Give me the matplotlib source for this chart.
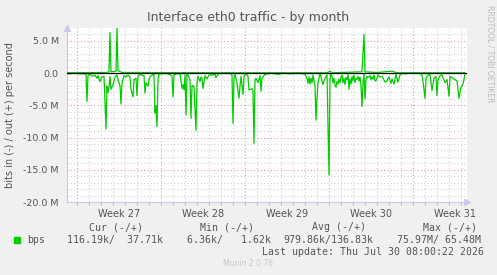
import matplotlib
matplotlib.use('Agg')
import matplotlib.pyplot as plt
import numpy as np

# hours since start of Week 27, inbound traffic (Mbit/s, drawn negative)
in_hours = [-22, -14, -4, 6, 16, 18, 20, 22, 26, 32, 36, 40, 42, 46, 50, 54, 58, 60, 62, 64,
            66, 68, 72, 76, 80, 82, 86, 88, 90, 94, 98, 102, 106, 108, 112, 114, 118, 120, 122, 126,
            130, 134, 136, 138, 142, 144, 146, 150, 154, 156, 158, 160, 162, 164, 170, 176, 186, 190, 192, 194,
            198, 206, 210, 212, 214, 216, 218, 220, 222, 226, 228, 230, 232, 234, 238, 240, 242, 246, 248, 250,
            252, 256, 260, 264, 270, 276, 278, 282, 286, 306, 310, 312, 314, 316, 320, 324, 326, 328, 332, 334,
            336, 338, 342, 344, 348, 350, 352, 354, 356, 358, 362, 366, 368, 370, 376, 382, 386, 396, 402, 410,
            426, 446, 456, 460, 462, 464, 466, 468, 470, 472, 476, 478, 480, 482, 486, 492, 494, 498, 500, 504,
            506, 508, 510, 512, 514, 516, 518, 520, 522, 524, 526, 528, 530, 532, 534, 536, 538, 540, 542, 544,
            546, 548, 550, 552, 554, 556, 558, 560, 562, 564, 566, 568, 570, 572, 574, 576, 578, 580, 582, 586,
            588, 590, 592, 594, 596, 598, 602, 606, 610, 616, 620, 624, 628, 630, 634, 638, 642, 646, 650, 656,
            666, 686, 690, 692, 696, 698, 702, 706, 710, 714, 718, 720, 722, 726, 730, 736, 740, 744, 746, 750,
            756, 760, 764, 768, 772, 776]
in_mbps = [0.1, 0.1, 0.0, 0.1, 0.1, 0.2, 4.4, 0.3, 0.2, 0.5, 0.3, 0.8, 0.4, 1.3, 0.6, 0.5, 8.7, 2.0, 3.0, 2.2,
           0.5, 2.5, 1.8, 0.6, 0.3, 1.0, 2.0, 4.8, 1.5, 0.4, 0.6, 0.3, 0.6, 2.5, 3.7, 1.0, 0.8, 3.5, 0.5, 0.2,
           0.3, 0.4, 3.1, 1.5, 2.0, 1.0, 0.6, 0.3, 0.2, 6.2, 5.0, 8.3, 1.0, 0.1, 0.1, 0.0, 0.2, 0.5, 3.7, 0.3,
           0.1, 0.1, 2.4, 1.8, 2.6, 0.3, 6.5, 0.2, 0.3, 1.0, 7.0, 2.0, 1.9, 2.2, 8.9, 1.5, 0.5, 1.3, 0.6, 0.8,
           2.4, 0.4, 0.9, 0.3, 0.3, 0.2, 0.7, 0.2, 0.0, 0.0, 0.3, 7.8, 0.8, 0.2, 1.5, 3.9, 2.0, 0.5, 3.3, 0.5,
           0.2, 0.0, 0.5, 2.6, 2.5, 2.4, 2.8, 10.9, 1.0, 0.8, 1.5, 0.4, 2.8, 0.8, 0.2, 0.1, 0.0, 0.1, 0.2, 0.0,
           0.1, 0.0, 0.2, 0.8, 1.6, 0.6, 1.7, 0.8, 1.5, 0.3, 2.0, 7.3, 3.9, 1.5, 0.0, 1.8, 1.2, 0.5, 0.3, 15.8,
           1.0, 0.0, 0.5, 1.5, 0.8, 1.8, 2.2, 1.3, 1.7, 0.9, 1.5, 0.6, 0.3, 1.5, 0.8, 1.8, 0.7, 1.0, 0.2, 2.5,
           0.9, 1.7, 0.5, 1.2, 0.3, 1.5, 0.8, 1.0, 0.5, 1.2, 0.6, 2.0, 5.2, 1.5, 0.2, 4.0, 1.0, 0.5, 0.7, 0.4,
           1.0, 0.6, 0.9, 0.3, 1.2, 1.2, 0.3, 0.6, 0.5, 1.4, 1.2, 0.6, 1.6, 0.9, 1.7, 0.2, 1.4, 0.3, 0.0, 0.1,
           0.0, 0.0, 0.4, 1.3, 3.9, 0.8, 0.3, 0.2, 2.7, 0.8, 0.5, 3.5, 1.0, 0.4, 0.3, 1.5, 1.0, 3.6, 0.5, 0.7,
           1.0, 1.2, 3.9, 2.2, 1.7, 0.2]

# outbound traffic (Mbit/s, drawn positive)
out_hours = [-22, 60, 64, 66, 68, 78, 80, 82, 90, 300, 500, 506, 510, 570, 574, 576, 600, 630, 640, 776]
out_mbps = [0.05, 0.1, 0.2, 6.3, 0.2, 0.3, 7.0, 0.4, 0.1, 0.05, 0.05, 0.3, 0.05, 0.2, 6.0, 0.2, 0.1, 0.3, 0.05, 0.05]

week_names = ['Week 27', 'Week 28', 'Week 29', 'Week 30', 'Week 31']
ytick_vals = [5, 0, -5, -10, -15, -20]
ytick_text = ['5.0 M', '0.0', '-5.0 M', '-10.0 M', '-15.0 M', '-20.0 M']

legend_heads = ['Cur (-/+)', 'Min (-/+)', 'Avg (-/+)', 'Max (-/+)']
legend_vals = ['116.19k/  37.71k', '6.36k/   1.62k', '979.86k/136.83k', '75.97M/ 65.48M']

W, H = 497, 275
fig = plt.figure(figsize=(W / 100, H / 100), dpi=100)
fig.patch.set_facecolor('#F0F0F0')

def px(x, y):
    return x / W, 1 - y / H

ax = fig.add_axes([67 / W, (H - 202) / H, 400 / W, 174 / H])
ax.set_facecolor('white')
ax.set_xlim(-20, 780)
ax.set_ylim(-20, 7)

# grid: grey dotted per day / per 1M, red dotted per week / per 5M
for d in range(0, 780, 24):
    if d % 168:
        ax.axvline(d, color='#D0D0D0', lw=0.8, ls=(0, (1, 2)), zorder=1)
for w in range(0, 780, 168):
    ax.axvline(w, color='#E49C9C', lw=0.8, ls=(0, (1, 2)), zorder=1)
for v in range(-19, 7):
    if v % 5:
        ax.axhline(v, color='#D0D0D0', lw=0.8, ls=(0, (1, 2)), zorder=1)
for v in ytick_vals:
    ax.axhline(v, color='#E49C9C', lw=0.8, ls=(0, (1, 2)), zorder=1)

ax.plot(in_hours, -np.array(in_mbps), color='#00CC00', lw=0.9, zorder=3)
ax.plot(out_hours, out_mbps, color='#00CC00', lw=0.9, zorder=3)
ax.axhline(0, color='black', lw=0.9, zorder=4)

for s in ['top', 'right']:
    ax.spines[s].set_visible(False)
for s in ['left', 'bottom']:
    ax.spines[s].set_color('#C8C8F0')
    ax.spines[s].set_linewidth(0.8)
ax.plot([0], [1.0], marker='^', ms=4, color='#C8C8F0', transform=ax.transAxes, clip_on=False)
ax.plot([1.0], [0], marker='>', ms=4, color='#C8C8F0', transform=ax.transAxes, clip_on=False)

ax.set_yticks(ytick_vals)
ax.set_yticklabels(ytick_text)
ax.tick_params(axis='y', length=0, pad=6, labelsize=6.8, labelcolor='#555555')
ax.set_xticks([84 + 168 * i for i in range(5)])
ax.set_xticklabels(week_names)
ax.tick_params(axis='x', length=0, pad=5, labelsize=7, labelcolor='#555555')
ax.set_xticks(range(0, 780, 24), minor=True)
ax.tick_params(axis='x', which='minor', length=2, color='#E49C9C', width=0.6)

fig.text(*px(248, 18), 'Interface eth0 traffic - by month', ha='center', va='center',
         fontsize=9, color='#555555')
fig.text(*px(10, 115), 'bits in (-) / out (+) per second', rotation=90, ha='center', va='center',
         fontsize=7, color='#555555')
fig.text(*px(490, 5), 'RRDTOOL / TOBI OETIKER', rotation=270, ha='center', va='top',
         fontsize=5.5, color='#BBBBBB')

mono = 'DejaVu Sans Mono'
for x, t in zip([89, 200, 312, 423], legend_heads):
    fig.text(*px(x, 227), t, family=mono, fontsize=7.1, color='#555555', ha='left', va='center')
fig.patches.append(plt.Rectangle(px(14, 243), 6 / W, 6 / H, transform=fig.transFigure,
                                 color='#00CC00', figure=fig))
fig.text(*px(27, 240), 'bps', family=mono, fontsize=7.1, color='#555555', ha='left', va='center')
for x, t in zip([67, 187, 283, 397], legend_vals):
    fig.text(*px(x, 240), t, family=mono, fontsize=7.1, color='#555555', ha='left', va='center')
fig.text(*px(262, 252), 'Last update: Thu Jul 30 08:00:22 2026', family=mono, fontsize=7.1,
         color='#555555', ha='left', va='center')
fig.text(*px(248, 264), 'Munin 2.0.76', fontsize=5.5, color='#C8C8C8', ha='center', va='center')

fig.savefig('out.png', dpi=100, facecolor=fig.get_facecolor())
